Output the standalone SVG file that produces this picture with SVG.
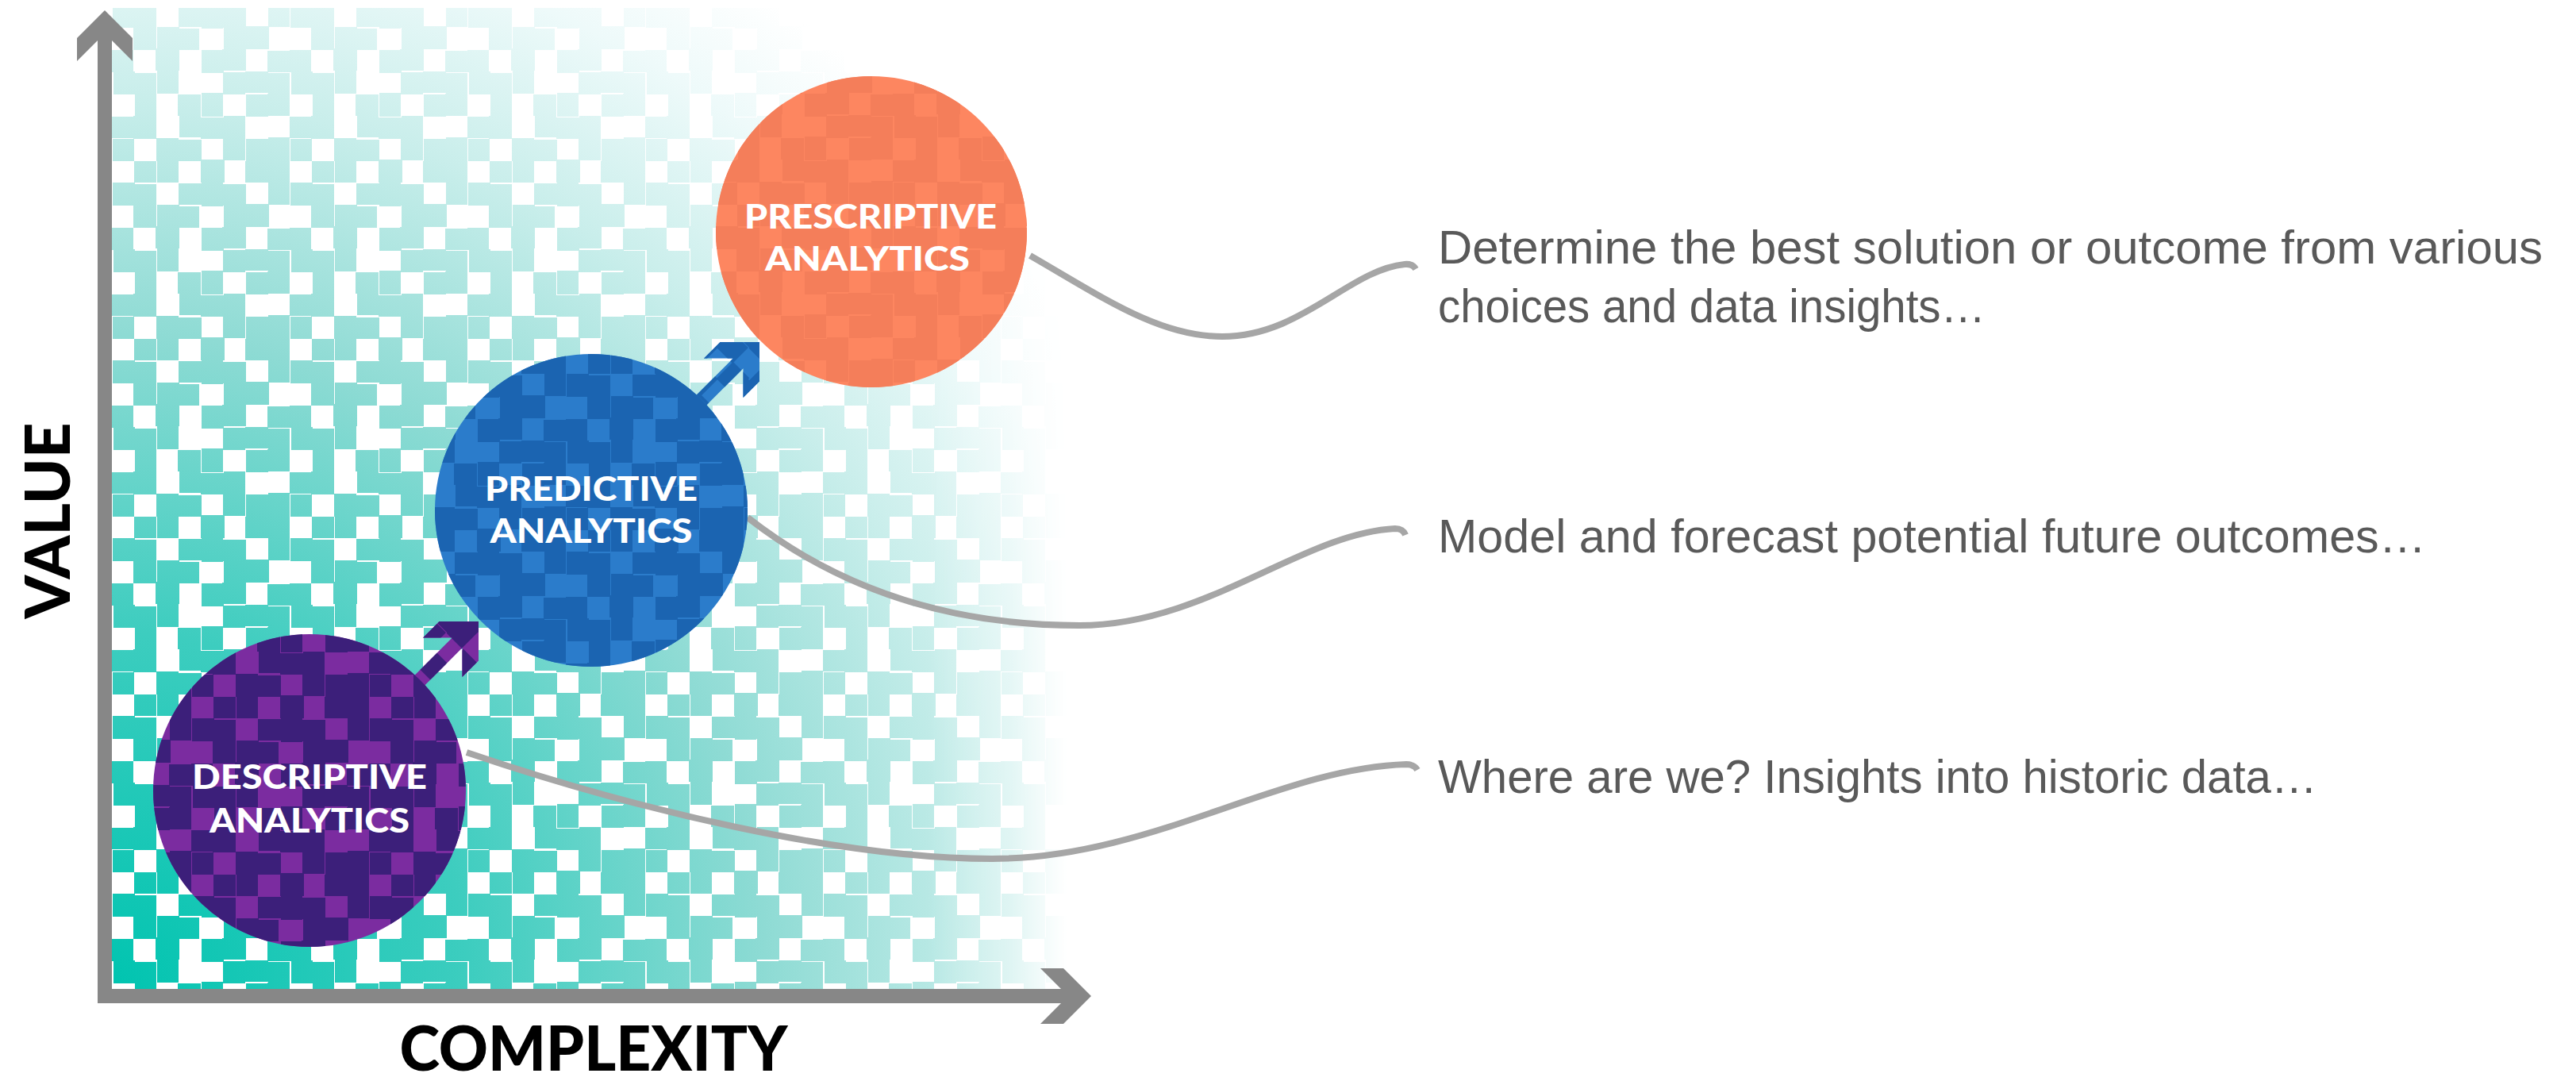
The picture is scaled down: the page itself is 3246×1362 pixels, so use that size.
<svg xmlns="http://www.w3.org/2000/svg" xmlns:xlink="http://www.w3.org/1999/xlink" width="3246" height="1362" viewBox="0 0 3246 1362">
<style>
.conn{fill:none;stroke:#a6a6a6;stroke-width:8;stroke-linecap:butt;stroke-linejoin:round}
.desc{font-family:'Liberation Sans',Arial,sans-serif;font-size:60px;fill:#595959}
.lbl{font-family:Lato,'Liberation Sans',sans-serif;font-weight:900;font-size:42px;fill:#ffffff;text-anchor:middle}
.axlbl{font-family:Lato,'Liberation Sans',sans-serif;font-weight:900;font-size:78px;fill:#000000;text-anchor:middle}
.axis{fill:#878787}
</style>
<defs>
  <g id="tileRects">
    <rect x="1" y="0" width="28" height="29"/><rect x="29" y="2" width="27" height="27"/><rect x="84" y="1" width="30" height="27"/><rect x="113" y="0" width="27" height="30"/><rect x="140" y="2" width="29" height="27"/><rect x="197" y="0" width="27" height="28"/>
    <rect x="27" y="29" width="29" height="28"/><rect x="57" y="28" width="28" height="30"/><rect x="83" y="30" width="27" height="27"/><rect x="141" y="29" width="28" height="28"/><rect x="169" y="27" width="29" height="29"/>
    <rect x="0" y="57" width="27" height="28"/><rect x="55" y="55" width="30" height="28"/><rect x="113" y="57" width="28" height="29"/><rect x="139" y="56" width="30" height="27"/><rect x="196" y="58" width="28" height="27"/>
    <rect x="2" y="84" width="27" height="29"/><rect x="28" y="86" width="28" height="27"/><rect x="57" y="83" width="27" height="29"/><rect x="140" y="85" width="28" height="28"/><rect x="168" y="84" width="29" height="27"/><rect x="197" y="86" width="27" height="28"/>
    <rect x="29" y="112" width="27" height="29"/><rect x="83" y="113" width="29" height="27"/><rect x="113" y="111" width="27" height="30"/><rect x="169" y="113" width="28" height="28"/><rect x="196" y="112" width="28" height="28"/>
    <rect x="0" y="141" width="28" height="27"/><rect x="27" y="140" width="29" height="29"/><rect x="85" y="139" width="27" height="28"/><rect x="112" y="142" width="29" height="27"/><rect x="141" y="140" width="27" height="29"/>
    <rect x="1" y="169" width="27" height="28"/><rect x="56" y="168" width="28" height="29"/><rect x="84" y="170" width="29" height="27"/><rect x="140" y="168" width="28" height="28"/><rect x="169" y="169" width="28" height="29"/><rect x="197" y="167" width="27" height="29"/>
    <rect x="28" y="197" width="28" height="27"/><rect x="57" y="196" width="27" height="28"/><rect x="112" y="195" width="30" height="29"/><rect x="168" y="197" width="29" height="27"/><rect x="196" y="196" width="28" height="28"/>
  </g>
  <pattern id="pMask" width="224" height="224" patternUnits="userSpaceOnUse" x="141" y="6"><use xlink:href="#tileRects" fill="#ffffff"/></pattern>
  <pattern id="pPurple" width="224" height="224" patternUnits="userSpaceOnUse" x="17" y="9"><use xlink:href="#tileRects" fill="#3c1f7a"/></pattern>
  <pattern id="pBlue" width="224" height="224" patternUnits="userSpaceOnUse" x="41" y="23"><use xlink:href="#tileRects" fill="#1b64b1"/></pattern>
  <pattern id="pOrange" width="224" height="224" patternUnits="userSpaceOnUse" x="5" y="61"><use xlink:href="#tileRects" fill="#f47e5a"/></pattern>
  <mask id="mosaicMask" maskUnits="userSpaceOnUse" x="141" y="0" width="1210" height="1246">
    <rect x="141" y="0" width="1210" height="1246" fill="url(#pMask)"/>
  </mask>
  <linearGradient id="fadeGrad" gradientUnits="userSpaceOnUse" x1="1170" y1="0" x2="1345" y2="0">
    <stop offset="0" stop-color="#ffffff"/>
    <stop offset="0.6" stop-color="#9a9a9a"/>
    <stop offset="1" stop-color="#000000"/>
  </linearGradient>
  <mask id="fadeMask" maskUnits="userSpaceOnUse" x="141" y="0" width="1210" height="1246">
    <rect x="141" y="0" width="1210" height="1246" fill="url(#fadeGrad)"/>
  </mask>
  <radialGradient id="bgGrad" gradientUnits="userSpaceOnUse" cx="141" cy="1246" r="1500">
    <stop offset="0" stop-color="#00c4b0"/>
    <stop offset="0.3" stop-color="#3dcdbf"/>
    <stop offset="0.55" stop-color="#8edbd4"/>
    <stop offset="0.75" stop-color="#c9eeeb"/>
    <stop offset="0.9" stop-color="#eefafa"/>
    <stop offset="1" stop-color="#ffffff"/>
  </radialGradient>
  <path id="stepArrow" d="M0,0 L-35,-35 L-64,-35 L-38,-9 L-115,-9 L-115,9 L-38,9 L-64,35 L-35,35 Z"/>
</defs>

<g id="background" mask="url(#fadeMask)">
  <rect x="141" y="10" width="1210" height="1236" fill="url(#bgGrad)" mask="url(#mosaicMask)"/>
</g>

<g id="axes">
  <path class="axis" d="M132,13 L167,48 L167,77 L141,51 L141,1246 L1337,1246 L1311,1220 L1340,1220 L1375,1255 L1340,1290 L1311,1290 L1337,1264 L123,1264 L123,51 L97,77 L97,48 Z"/>
  <text class="axlbl" transform="translate(88,656) rotate(-90)" textLength="247" lengthAdjust="spacingAndGlyphs">VALUE</text>
  <text class="axlbl" x="748" y="1349" textLength="489" lengthAdjust="spacingAndGlyphs">COMPLEXITY</text>
</g>

<g id="connectors">
  <g transform="translate(603,783) rotate(-45)">
    <use xlink:href="#stepArrow" fill="#7b2ca0"/>
    <use xlink:href="#stepArrow" fill="url(#pPurple)"/>
  </g>
  <g transform="translate(957,431) rotate(-45)">
    <use xlink:href="#stepArrow" fill="#2b7ccb"/>
    <use xlink:href="#stepArrow" fill="url(#pBlue)"/>
  </g>
  <path class="conn" d="M1298,322 C1390,375 1460,424 1540,424 C1640,424 1700,340 1770,333 Q1780,332 1784,339"/>
  <path class="conn" d="M942,652 C1080,760 1230,788 1360,788 C1520,788 1640,672 1758,666 Q1768,666 1771,674"/>
  <path class="conn" d="M588,948 C800,1020 1060,1082 1250,1082 C1450,1082 1610,968 1772,963 Q1782,963 1786,970"/>
</g>

<g id="node-descriptive">
  <circle cx="390" cy="996" r="197" fill="#7b2ca0"/>
  <circle cx="390" cy="996" r="197" fill="url(#pPurple)"/>
  <text class="lbl" x="390" y="994" textLength="296" lengthAdjust="spacingAndGlyphs">DESCRIPTIVE</text>
  <text class="lbl" x="390" y="1049" textLength="252" lengthAdjust="spacingAndGlyphs">ANALYTICS</text>
</g>

<g id="node-predictive">
  <circle cx="745" cy="643" r="197" fill="#2b7ccb"/>
  <circle cx="745" cy="643" r="197" fill="url(#pBlue)"/>
  <text class="lbl" x="745" y="631" textLength="268" lengthAdjust="spacingAndGlyphs">PREDICTIVE</text>
  <text class="lbl" x="745" y="684" textLength="255" lengthAdjust="spacingAndGlyphs">ANALYTICS</text>
</g>

<g id="node-prescriptive">
  <circle cx="1098" cy="292" r="196" fill="#fd8660"/>
  <circle cx="1098" cy="292" r="196" fill="url(#pOrange)"/>
  <text class="lbl" x="1097" y="288" textLength="318" lengthAdjust="spacingAndGlyphs">PRESCRIPTIVE</text>
  <text class="lbl" x="1093" y="341" textLength="258" lengthAdjust="spacingAndGlyphs">ANALYTICS</text>
</g>

<g id="descriptions">
  <text class="desc" x="1812" y="332" textLength="1392" lengthAdjust="spacingAndGlyphs">Determine the best solution or outcome from various</text>
  <text class="desc" x="1812" y="406" textLength="690" lengthAdjust="spacingAndGlyphs">choices and data insights…</text>
  <text class="desc" x="1812" y="696" textLength="1245" lengthAdjust="spacingAndGlyphs">Model and forecast potential future outcomes…</text>
  <text class="desc" x="1812" y="999" textLength="1108" lengthAdjust="spacingAndGlyphs">Where are we? Insights into historic data…</text>
</g>
</svg>
